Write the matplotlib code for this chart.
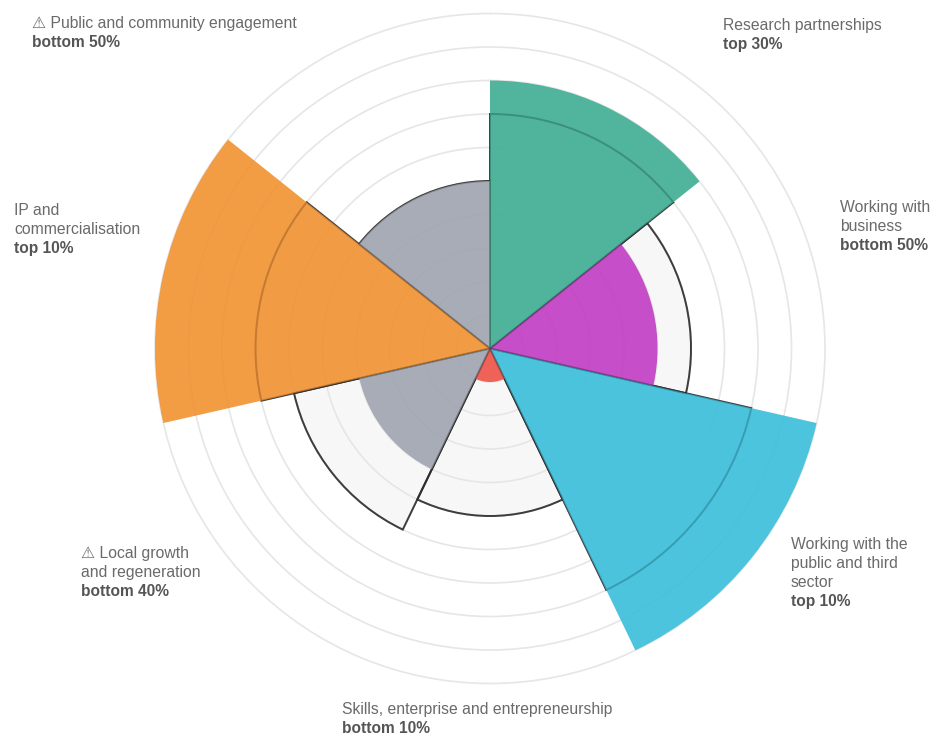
import matplotlib
matplotlib.use("Agg")
import matplotlib.pyplot as plt
import numpy as np

plt.rcParams['font.family'] = ['Liberation Sans', 'DejaVu Sans']

# clockwise from the top
categories = [
    ["Research partnerships"],
    ["Working with", "business"],
    ["Working with the", "public and third", "sector"],
    ["Skills, enterprise and entrepreneurship"],
    ["\u26a0 Local growth", "and regeneration"],
    ["IP and", "commercialisation"],
    ["\u26a0 Public and community engagement"],
]
ranks = ["top 30%", "bottom 50%", "top 10%", "bottom 10%", "bottom 40%", "top 10%", "bottom 50%"]
values = [8, 5, 10, 1, 4, 10, 5]
benchmark = [7, 6, 8, 5, 6, 7, 5]
colors = ["#3ead93", "#c13bc4", "#39beda", "#ee5247", "#9fa4b0", "#f19130", "#9fa4b0"]

W, H = 943, 750
cx, cy = 490, 348.5
unit = 33.5
rmax = 10.1

fig = plt.figure(figsize=(W / 100, H / 100), dpi=100)
ax = fig.add_axes([(cx - unit * rmax) / W, (H - cy - unit * rmax) / H,
                   2 * unit * rmax / W, 2 * unit * rmax / H], projection="polar")
ax.set_theta_zero_location("N")
ax.set_theta_direction(-1)
ax.set_ylim(0, rmax)

n = len(values)
theta = np.arange(n) * 2 * np.pi / n
width = 2 * np.pi / n

# light benchmark sectors, then rings, then outline, values see-through over them
ax.bar(theta, benchmark, width=width, align="edge", color="#f7f7f7", linewidth=0, zorder=1)
ax.set_rticks(np.arange(1, 11))
ax.set_yticklabels([])
ax.set_xticks([])
ax.grid(True, axis="y", color="#e6e6e6", linewidth=1.2, zorder=2)
ax.set_axisbelow(False)
for line in ax.yaxis.get_gridlines():
    line.set_zorder(2)
ax.spines["polar"].set_visible(False)
ax.patch.set_visible(False)

ax.bar(theta, benchmark, width=width, align="edge", fill=False, edgecolor="#2e2e2e",
       linewidth=1.4, alpha=0.9, zorder=3)
ax.bar(theta, values, width=width, align="edge", color=colors, alpha=0.9, linewidth=0, zorder=4)
# outline shows a bit more through the coloured sectors
ax.bar(theta, benchmark, width=width, align="edge", fill=False, edgecolor="#2e2e2e",
       linewidth=1.4, alpha=0.15, zorder=5)

# label anchors in pixels: left edge and centre of the first line
label_xy = [(723, 25), (840, 207), (791, 544), (342, 709), (81, 553), (14, 210), (32, 23)]
line_step = 19
for lines, rank, (lx, ly) in zip(categories, ranks, label_xy):
    for i, txt in enumerate(lines):
        fig.text(lx / W, 1 - (ly + i * line_step + 5) / H, txt, fontsize=11.3,
                 color="#6a6a6a", ha="left", va="baseline")
    fig.text(lx / W, 1 - (ly + len(lines) * line_step + 5) / H, rank, fontsize=11.2,
             fontweight="bold", color="#555555", ha="left", va="baseline")

fig.savefig("out.png", dpi=100, facecolor="white")
